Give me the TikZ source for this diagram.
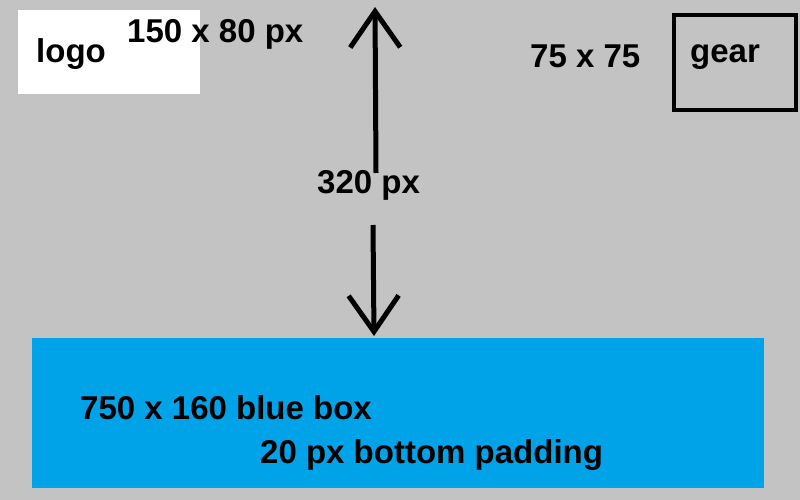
\documentclass[tikz,border=0pt]{standalone}
\usepackage{fontspec}
\setmainfont{Liberation Sans}
\usepackage{xcolor}
\usetikzlibrary{arrows.meta,positioning}
\definecolor{paintgray}{HTML}{C3C3C3}
\definecolor{paintblue}{HTML}{00A2E8}

\begin{document}
\begin{tikzpicture}[x=1pt,y=-1pt]
\tikzset{lbl/.style={font=\fontsize{33}{38}\selectfont\bfseries,
inner sep=0pt, anchor=base west}}
\tikzset{area/.style={inner sep=0pt, outer sep=0pt}}
\tikzset{dimline/.style={line width=5pt,
-{Straight Barb[length=36pt,width=50pt,line width=5pt]}}}
\useasboundingbox (0,0) rectangle (800,500);
\fill[paintgray] (0,0) rectangle (800,500);
% boxes
\node[area, fill=white, minimum width=182pt, minimum height=84pt] (logobox) at (109,52) {};
\node[area, draw, line width=4pt, minimum width=122pt, minimum height=95pt] (gearbox) at (735,62.5) {};
\node[area, fill=paintblue, minimum width=732pt, minimum height=150pt] (bluebox) at (398,413) {};
% labels
\node[lbl] (logo) at (36,63) {logo};
\node[lbl] (logosize) at (127,43) {150 x 80 px};
\node[lbl] (gear) at (690,63) {gear};
\node[lbl] (gearsize) at (530,68) {75 x 75};
\node[lbl] (gap) at (317,193) {320 px};
\node[lbl] (bluesize) at (80,419) {750 x 160 blue box};
\node[lbl] (padding) at (260,463) {20 px bottom padding};
% the 320 px arrows
\coordinate (uptip) at (375,7);
\coordinate (upfoot) at (376,173);
\coordinate (downfoot) at (373,225);
\coordinate (downtip) at (374,336);
\draw[dimline] (upfoot) -- (uptip);
\draw[dimline] (downfoot) -- (downtip);
\end{tikzpicture}
\end{document}
